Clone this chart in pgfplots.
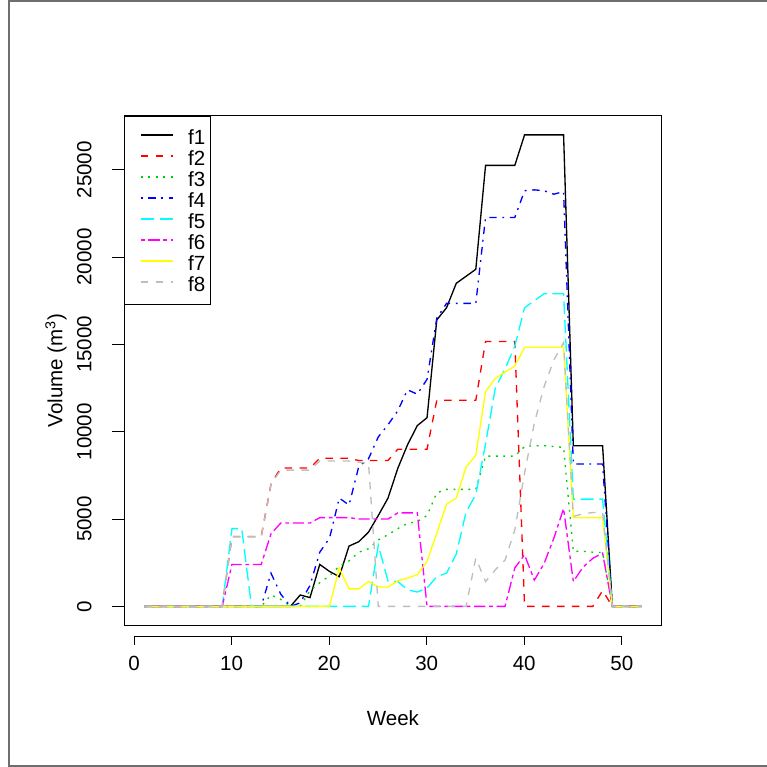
\documentclass[border=0pt]{standalone}
\usepackage{fontspec}
\setmainfont{Liberation Sans}
\usepackage{pgfplots}
\usepackage{pgfplotstable}
\pgfplotsset{compat=1.18}
\definecolor{rblack}{RGB}{0,0,0}
\definecolor{rred}{RGB}{255,0,0}
\definecolor{rgreen}{RGB}{0,205,0}
\definecolor{rblue}{RGB}{0,0,255}
\definecolor{rcyan}{RGB}{0,255,255}
\definecolor{rmagenta}{RGB}{255,0,255}
\definecolor{ryellow}{RGB}{255,255,0}
\definecolor{rgray}{RGB}{190,190,190}
\definecolor{rborder}{RGB}{110,110,110}
\newcommand\rfont{\fontsize{15.4pt}{18pt}\selectfont}

\pgfplotstableread{
week f1 f2 f3 f4 f5 f6 f7 f8
1 0 0 0 0 0 0 0 0
2 0 0 0 0 0 0 0 0
3 0 0 0 0 0 0 0 0
4 0 0 0 0 0 0 0 0
5 0 0 0 0 0 0 0 0
6 0 0 0 0 0 0 0 0
7 0 0 0 0 0 0 0 0
8 0 0 0 0 0 0 0 0
9 0 0 0 0 0 0 0 0
10 0 4000 0 0 4450 2400 0 3980
11 0 4000 0 0 4450 2400 0 3980
12 0 4000 0 0 0 2400 0 3980
13 0 4000 0 0 0 2400 0 3980
14 0 7000 650 1900 0 4150 0 7000
15 0 7920 400 700 0 4770 0 7800
16 0 7920 0 0 0 4770 0 7800
17 650 7920 0 200 0 4770 0 7800
18 500 7920 900 1200 0 4770 0 7800
19 2400 8480 1350 3100 0 5080 0 8320
20 2000 8480 1750 3900 0 5080 0 8320
21 1700 8480 2300 6200 0 5080 2200 8320
22 3450 8480 2600 5800 0 5080 1000 8320
23 3700 8350 3100 8000 0 5000 1000 8250
24 4250 8350 3300 8450 0 5000 1420 8200
25 5200 8350 3800 9700 3500 5000 1120 0
26 6200 8350 4100 10400 1450 5000 1100 0
27 7900 9000 4450 11200 1420 5350 1460 0
28 9250 9000 4750 12400 950 5350 1620 0
29 10350 9000 4850 12150 820 5350 1810 0
30 10800 9000 5200 13000 1050 0 2570 0
31 16400 11800 6500 16500 1700 0 4190 0
32 17100 11800 6700 17350 1900 0 5850 0
33 18500 11800 6700 17350 3000 0 6200 0
34 18900 11800 6700 17350 5400 0 7970 0
35 19300 11800 6700 17350 6400 0 8650 2760
36 25250 15170 8600 22270 9300 0 12300 1420
37 25250 15170 8600 22270 12500 0 13050 2090
38 25250 15170 8600 22270 13600 0 13420 2650
39 25250 15170 8600 22270 14900 2200 13750 4380
40 27000 0 9150 23800 17100 2950 14840 7630
41 27000 0 9200 23850 17500 1500 14840 10490
42 27000 0 9200 23800 17900 2450 14840 12580
43 27000 0 9150 23600 17900 3900 14840 14110
44 27000 0 9100 23750 17900 5600 14840 15100
45 9200 0 3150 8150 6140 1420 5070 5150
46 9200 0 3150 8150 6140 2250 5070 5300
47 9200 0 3100 8150 6140 2750 5070 5370
48 9200 900 3080 8150 6140 3050 5070 5370
49 0 0 0 0 0 0 0 0
50 0 0 0 0 0 0 0 0
51 0 0 0 0 0 0 0 0
52 0 0 0 0 0 0 0 0
}\data

\begin{document}
\begin{tikzpicture}[x=1pt,y=1pt]
\path[use as bounding box] (0,0) rectangle (575.25,575.25);
\draw[rborder, line width=1.3pt] (575.25,1) -- (6.5,1) -- (6.5,574.5) -- (575.25,574.5);
% separate x axis (R style)
\begin{axis}[
  at={(100.5pt,97.5pt)}, anchor=south west,
  scale only axis, width=365.85pt, height=20pt,
  xmin=0, xmax=50, ymin=0, ymax=1,
  axis x line*=bottom, axis y line=none,
  axis line style={line width=0.75pt, -},
  xtick={0,10,...,50}, tick align=outside, major tick length=6pt,
  xtick style={line width=0.75pt, black},
  tick label style={font=\rfont},
  /pgf/number format/assume math mode=true,
  /pgf/number format/1000 sep={},
  xticklabel style={anchor=north, yshift=-4.5pt},
]
\end{axis}
\begin{axis}[
  at={(93.225pt,106.35pt)}, anchor=south west,
  scale only axis, width=402.9pt, height=381.9pt,
  xmin=-1.04, xmax=54.04, ymin=-1080, ymax=28080,
  axis line style={line width=0.75pt},
  xtick=\empty, ytick={0,5000,...,25000},
  ytick pos=left, scaled y ticks=false,
  tick align=outside, major tick length=9pt,
  ytick style={line width=0.75pt, black},
  tick label style={font=\rfont},
  /pgf/number format/assume math mode=true,
  /pgf/number format/1000 sep={},
  /pgf/number format/fixed,
  yticklabel style={xshift=-12pt, rotate=90, anchor=south},
  xlabel={Week}, ylabel={Volume (m\textsuperscript{3})},
  xlabel style={at={([yshift=-69.6pt]rel axis cs:0.5,0)}, anchor=center, font=\rfont},
  ylabel style={at={([xshift=-51.2pt]rel axis cs:0,0.5)}, anchor=center, font=\rfont},
  every axis plot/.append style={line width=1pt},
  legend image code/.code={\path (0pt,0pt); \draw[#1, line width=1pt] (7.85pt,1.4pt) -- (32.25pt,1.4pt);},
  legend cell align=left,
  legend style={at={(rel axis cs:0,1)}, anchor=north west, draw=black, line width=0.75pt,
    inner xsep=3.75pt, inner ysep=7.5pt, row sep=0pt, column sep=10.5pt, font=\rfont,
    nodes={inner sep=0pt, text height=13.5pt, text depth=2.25pt}},
]
\addplot[color=rblack, draw=rblack, solid] table[x=week, y=f1] {\data};
\addplot[color=rred, draw=rred, dash pattern=on 5.6pt off 5.6pt] table[x=week, y=f2] {\data};
\addplot[color=rgreen, draw=rgreen, dash pattern=on 1.4pt off 4.2pt] table[x=week, y=f3] {\data};
\addplot[color=rblue, draw=rblue, dash pattern=on 1.4pt off 4.2pt on 5.6pt off 4.2pt] table[x=week, y=f4] {\data};
\addplot[color=rcyan, draw=rcyan, dash pattern=on 9.8pt off 4.2pt] table[x=week, y=f5] {\data};
\addplot[color=rmagenta, draw=rmagenta, dash pattern=on 2.8pt off 2.8pt on 8.4pt off 2.8pt] table[x=week, y=f6] {\data};
\addplot[color=ryellow, draw=ryellow, solid] table[x=week, y=f7] {\data};
\addplot[color=rgray, draw=rgray, dash pattern=on 5.6pt off 5.6pt] table[x=week, y=f8] {\data};
\legend{f1,f2,f3,f4,f5,f6,f7,f8}
\end{axis}
\end{tikzpicture}
\end{document}
